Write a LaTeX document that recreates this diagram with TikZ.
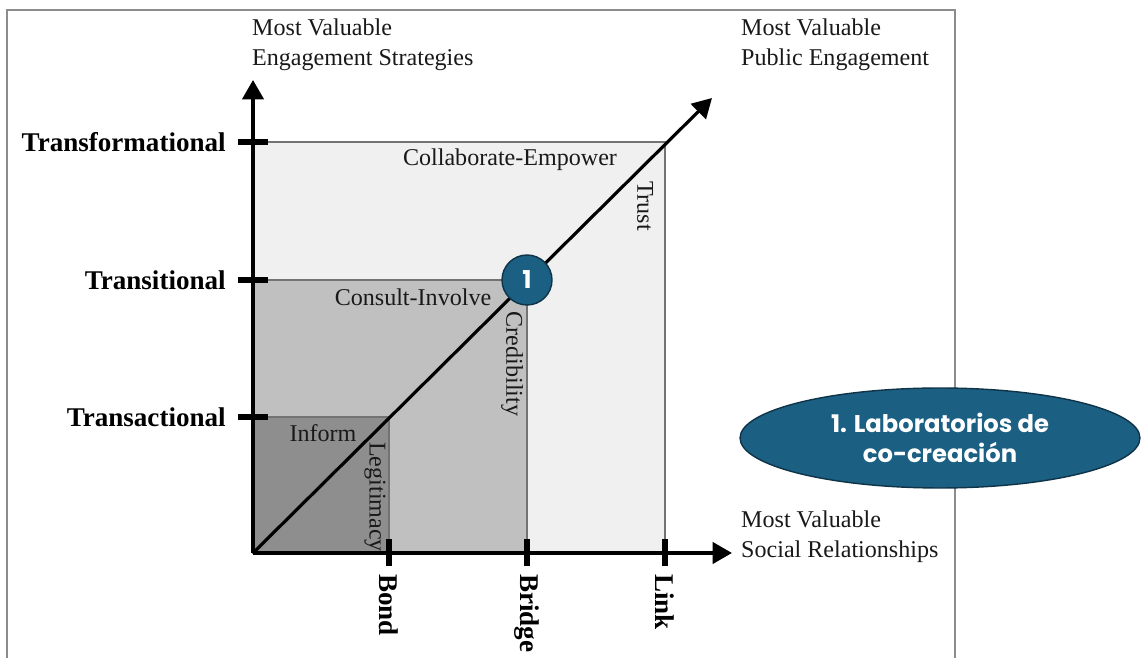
\documentclass[tikz,border=0pt]{standalone}
\usepackage{fontspec}
\setmainfont{Liberation Serif}
\newfontfamily\labfont{Poppins}
\usetikzlibrary{positioning,shapes.geometric,arrows.meta}
\definecolor{labblue}{HTML}{1B5F82}
\definecolor{lightzone}{HTML}{F0F0F0}
\definecolor{midzone}{HTML}{C0C0C0}
\definecolor{darkzone}{HTML}{8E8E8E}

\begin{document}
\begin{tikzpicture}[x=0.02cm, y=0.02cm,
                    axis/.style={line width=2.2pt,-{Triangle[length=11pt,width=12pt]}},
                    tick/.style={line width=3.2pt},
                    zone/.style={draw=black!55,line width=0.6pt},
                    level/.style={font=\fontsize{15.4}{17}\selectfont\bfseries,anchor=east,inner sep=0pt},
                    tie/.style={font=\fontsize{15.4}{17}\selectfont\bfseries,rotate=-90,anchor=west,inner sep=0pt},
                    axis label/.style={font=\fontsize{13.7}{17}\selectfont,align=left,anchor=west,text=black!90},
                    zone label/.style={font=\fontsize{13.7}{16}\selectfont,text=black!90,inner sep=0pt},
                    main node/.style={fill=labblue,draw=labblue!55!black,line width=0.8pt,text=white,font=\labfont\bfseries}]

  \useasboundingbox (0,0) rectangle (1141,658);
  \draw[black!45,line width=0.8pt] (7,0) -- (7,648) -- (955,648) -- (955,0);

  \coordinate (O) at (253,105);
  \coordinate (ytip) at (253,578);
  \coordinate (xtip) at (732,105);
  \coordinate (dtip) at (712,560);

  \draw[zone,fill=lightzone] (O) rectangle (665,516);
  \draw[zone,fill=midzone] (O) rectangle (527,378);
  \draw[zone,fill=darkzone] (O) rectangle (389,241);

  \node[zone label] (collab) at (510,498) {Collaborate-Empower};
  \node[zone label] (consult) at (413,361) {Consult-Involve};
  \node[zone label] (inform) at (323,225) {Inform};
  \node[zone label,rotate=-90] (trust) at (645,452) {Trust};
  \node[zone label,rotate=-90] (cred) at (512,294) {Credibility};
  \node[zone label,rotate=-90] (legit) at (375,161) {Legitimacy};

  \draw[line width=1.8pt,-{Triangle[length=11pt,width=12pt]}] (O) -- (dtip);
  \draw[axis] (O) -- (ytip);
  \draw[axis] (O) -- (xtip);

  \foreach \y/\name in {241/Transactional,378/Transitional,516/Transformational}{
    \draw[tick] (238,\y) -- (268,\y);
    \node[level] (\name) at (226,\y) {\name};
  }
  \foreach \x/\name in {389/Bond,527/Bridge,665/Link}{
    \draw[tick] (\x,92) -- (\x,119);
    \node[tie] (\name) at (\x,84) {\name};
  }

  \node[axis label] (strat) at (246,613) {Most Valuable\\Engagement Strategies};
  \node[axis label] (public) at (735,613) {Most Valuable\\Public Engagement};
  \node[axis label] (social) at (735,121) {Most Valuable\\Social Relationships};

  \node[main node,circle,minimum size=1cm,inner sep=0pt,font=\labfont\bfseries\fontsize{14}{16}\selectfont] (one) at (527,378) {1};
  \node[main node,ellipse,minimum width=8cm,minimum height=2cm,align=center,
        font=\labfont\bfseries\fontsize{13.8}{17}\selectfont] (lab) at (940,220) {1. Laboratorios de\\co-creación};

\end{tikzpicture}
\end{document}
